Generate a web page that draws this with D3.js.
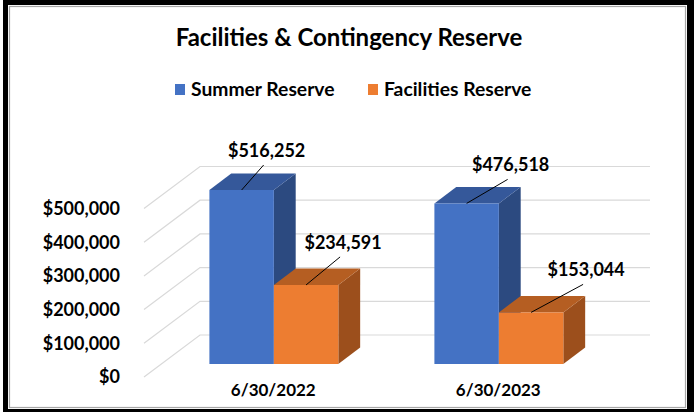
<!DOCTYPE html>
<html>
<head>
<meta charset="utf-8">
<script src="https://cdn.jsdelivr.net/npm/d3@7"></script>
<style>
  body { margin: 0; background: #fff; }
  text { font-family: Lato, "Open Sans", sans-serif; font-weight: bold; fill: #000; }
</style>
</head>
<body>
<svg id="chart"></svg>
<script>
// chart values
const categories = ["6/30/2022", "6/30/2023"];
const seriesNames = ["Summer Reserve", "Facilities Reserve"];
const summerReserve = [516252, 476518];
const facilitiesReserve = [234591, 153044];
const yTicks = [0, 100000, 200000, 300000, 400000, 500000];

// where the leader lines of the data labels end (dx, dy from top of bar)
const labelNudge = [[22, -25], [34, -28], [41, -24], [52, -28]];

const W = 694, H = 412;
const svg = d3.select("#chart").attr("width", W).attr("height", H);

// frame
svg.append("rect").attr("x", 3).attr("y", 0).attr("width", W - 3).attr("height", H).attr("fill", "#000");
svg.append("rect").attr("x", 8).attr("y", 5).attr("width", 679).attr("height", 404).attr("fill", "#fff");
svg.append("rect").attr("x", 9.5).attr("y", 6.5).attr("width", 676).attr("height", 401)
  .attr("fill", "none").attr("stroke", "#a6a6a6").attr("stroke-width", 1.2);

// title
svg.append("text").attr("x", 349).attr("y", 46).attr("text-anchor", "middle")
  .style("font-size", "24px").text("Facilities & Contingency Reserve");

// 3d projection: floor x, value, depth z (0 = front, 1 = back wall)
const originX = 144, originY = 377, depthX = 56, depthY = -42;
const h = d3.scaleLinear().domain([0, 500000]).range([0, 168.5]);
const x0 = d3.scaleBand().domain(categories).range([0, 450]);
const groupW = x0.bandwidth() * 0.573;
const x1 = d3.scaleBand().domain(seriesNames).range([0, groupW]);
const P = (fx, v, z) => [originX + fx + depthX * z, originY - h(v) + depthY * z];

// gridlines (side wall + back wall)
yTicks.forEach(t => {
  const a = P(0, t, 0), b = P(0, t, 1), c = P(450, t, 1);
  svg.append("path").attr("d", `M${a}L${b}L${c}`)
    .attr("fill", "none").attr("stroke", "#d9d9d9").attr("stroke-width", 1.2);
});

// y axis labels
svg.append("g").selectAll("text").data(yTicks).join("text")
  .attr("x", 120).attr("y", d => P(0, d, 0)[1]).attr("dy", "0.36em")
  .attr("text-anchor", "end").style("font-size", "18px")
  .text(d3.format("$,"));

// legend
const colors = {
  "Summer Reserve": { front: "#4472c4", top: "#35589a", side: "#2c4a80" },
  "Facilities Reserve": { front: "#ed7d31", top: "#b55e22", side: "#9c4f1c" }
};
const legendX = [175, 368];
seriesNames.forEach((s, i) => {
  svg.append("rect").attr("x", legendX[i]).attr("y", 84).attr("width", 10).attr("height", 11)
    .attr("fill", colors[s].front);
  svg.append("text").attr("x", legendX[i] + 16).attr("y", 96).style("font-size", "19.3px").text(s);
});

// bars
const zFront = 0.31, zBack = 0.70;
const bars = [];
categories.forEach((c, i) => {
  [summerReserve[i], facilitiesReserve[i]].forEach((v, j) => {
    bars.push({ cat: c, series: seriesNames[j], value: v });
  });
});

const poly = pts => "M" + pts.map(p => p.join(",")).join("L") + "Z";

bars.forEach((d, k) => {
  const xl = x0(d.cat) + (x0.bandwidth() - groupW) / 2 + x1(d.series);
  const xr = xl + x1.bandwidth();
  const col = colors[d.series];
  const g = svg.append("g");
  g.append("path").attr("fill", col.side)
    .attr("d", poly([P(xr, 0, zFront), P(xr, d.value, zFront), P(xr, d.value, zBack), P(xr, 0, zBack)]));
  g.append("path").attr("fill", col.top)
    .attr("d", poly([P(xl, d.value, zFront), P(xr, d.value, zFront), P(xr, d.value, zBack), P(xl, d.value, zBack)]));
  g.append("path").attr("fill", col.front)
    .attr("d", poly([P(xl, 0, zFront), P(xr, 0, zFront), P(xr, d.value, zFront), P(xl, d.value, zFront)]));
  d.anchor = P((xl + xr) / 2, d.value, zFront);
});

// data labels with leader lines
bars.forEach((d, k) => {
  const [ax, ay] = d.anchor;
  const ex = ax + labelNudge[k][0], ey = ay + labelNudge[k][1];
  svg.append("line").attr("x1", ax).attr("y1", ay).attr("x2", ex).attr("y2", ey)
    .attr("stroke", "#000").attr("stroke-width", 1);
  svg.append("text").attr("x", ex + 3).attr("y", ey - 8).attr("text-anchor", "middle")
    .style("font-size", "18px").text(d3.format("$,")(d.value));
});

// category labels
svg.append("g").selectAll("text").data(categories).join("text")
  .attr("x", d => P(x0(d) + x0.bandwidth() / 2, 0, 0.3)[0])
  .attr("y", 396).attr("text-anchor", "middle").style("font-size", "17px")
  .text(d => d);
</script>
</body>
</html>
